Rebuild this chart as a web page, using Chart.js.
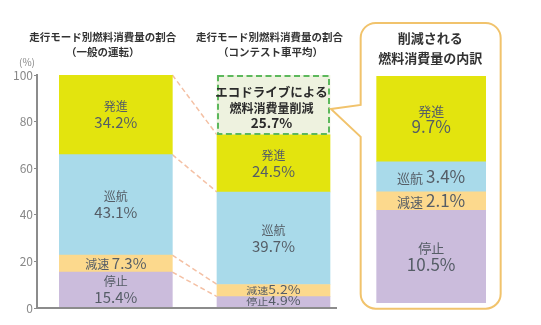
<!DOCTYPE html>
<html lang="ja">
<head>
<meta charset="utf-8">
<script src="https://cdn.jsdelivr.net/npm/chart.js@4.4.1/dist/chart.umd.min.js"></script>
<style>
    html, body { margin: 0; padding: 0; background: #fff; }
    canvas { display: block; }
</style>
</head>
<body>
<canvas id="fuelChart" width="541" height="325"></canvas>
<script>
// 走行モード別燃料消費量の割合
var groups = ['一般の運転', 'コンテスト車平均', '削減内訳'];
var modes = ['停止', '減速', '巡航', '発進'];
var generalShare = [15.4, 7.3, 43.1, 34.2];
var contestShare = [4.9, 5.2, 39.7, 24.5];
var reductionShare = [10.5, 2.1, 3.4, 9.7];
var reductionTotal = 25.7;
var yTicks = [0, 20, 40, 60, 80, 100];

var modeColors = ['#cbbcdc', '#fcd98d', '#a9daea', '#e3e40e'];
var FONT = '"Noto Sans CJK JP", "Noto Sans", sans-serif';
var TEXT = '#555d66';

function font(size, weight) {
    return (weight || 'normal') + ' ' + size + 'px ' + FONT;
}

// draws a row made of differently sized pieces, centred on cx
function drawPieces(ctx, pieces, cx, cy) {
    var total = 0;
    var big = 0;
    pieces.forEach(function (p) {
        ctx.font = font(p.size, p.weight);
        p.w = ctx.measureText(p.text).width;
        total += p.w;
        big = Math.max(big, p.size);
    });
    var x = cx - total / 2;
    ctx.textAlign = 'left';
    ctx.textBaseline = 'alphabetic';
    pieces.forEach(function (p) {
        ctx.font = font(p.size, p.weight);
        ctx.fillText(p.text, x, cy + big * 0.37);
        x += p.w;
    });
}

function centerText(ctx, text, x, y, f, color) {
    ctx.font = f;
    ctx.fillStyle = color;
    ctx.textAlign = 'center';
    ctx.textBaseline = 'middle';
    ctx.fillText(text, x, y);
}

var datasets = [];
modes.forEach(function (m, i) {
    datasets.push({
        label: m,
        data: [generalShare[i], contestShare[i], null],
        backgroundColor: modeColors[i],
        yAxisID: 'y',
        barThickness: 113
    });
});
datasets.push({
    label: 'エコドライブによる燃料消費量削減',
    data: [null, reductionTotal, null],
    backgroundColor: '#eef2df',
    yAxisID: 'y',
    barThickness: 113
});
var REDUCTION = datasets.length - 1;
modes.forEach(function (m, i) {
    datasets.push({
        label: m,
        data: [null, null, reductionShare[i]],
        backgroundColor: modeColors[i],
        yAxisID: 'y2',
        barThickness: 109
    });
});

var decorations = {
    id: 'decorations',
    beforeDatasetsDraw: function (chart) {
        var ctx = chart.ctx;
        // dashed guide lines between the first two columns
        ctx.save();
        ctx.strokeStyle = '#f4c0a4';
        ctx.lineWidth = 1.5;
        ctx.setLineDash([5, 3]);
        for (var d = 0; d < modes.length; d++) {
            var meta = chart.getDatasetMeta(d);
            var a = meta.data[0], b = meta.data[1];
            ctx.beginPath();
            ctx.moveTo(a.x + a.width / 2, a.y);
            ctx.lineTo(b.x - b.width / 2, b.y);
            ctx.stroke();
        }
        ctx.restore();
    },
    afterDatasetsDraw: function (chart) {
        var ctx = chart.ctx;
        var y = chart.scales.y;
        var area = chart.chartArea;

        // baseline under the first two columns
        var bar2 = chart.getDatasetMeta(0).data[1];
        ctx.save();
        ctx.strokeStyle = '#8c8c8c';
        ctx.lineWidth = 2;
        ctx.beginPath();
        ctx.moveTo(area.left - 1, y.getPixelForValue(0));
        ctx.lineTo(bar2.x + bar2.width / 2 + 7, y.getPixelForValue(0));
        ctx.stroke();

        // reduction block: dashed green outline
        var red = chart.getDatasetMeta(REDUCTION).data[1];
        var rl = red.x - red.width / 2, rr = red.x + red.width / 2;
        ctx.strokeStyle = '#5cb85c';
        ctx.lineWidth = 2;
        ctx.setLineDash([6, 3.5]);
        ctx.strokeRect(rl + 1, red.y + 1, red.width - 2, red.base - red.y - 2);
        ctx.setLineDash([]);
        var rc = red.x - 2;
        ctx.fillStyle = '#2b2b2b';
        centerText(ctx, 'エコドライブによる', rc, red.y + 17, font(12.5, 'bold'), '#2b2b2b');
        centerText(ctx, '燃料消費量削減', rc, red.y + 33, font(12, 'bold'), '#2b2b2b');
        centerText(ctx, reductionTotal.toFixed(1) + '%', rc, red.y + 48, font(13.5, 'bold'), '#2b2b2b');

        // callout frame around the breakdown column
        var first3 = chart.getDatasetMeta(REDUCTION + 1).data[2];
        var last3 = chart.getDatasetMeta(REDUCTION + modes.length).data[2];
        var L = first3.x - first3.width / 2 - 16;
        var R = first3.x + first3.width / 2 + 15;
        var T = 23;
        var B = first3.base + 6;
        var r = 15;
        var nTop = red.y + 30, nBot = red.base + 2;
        var tipX = rr + 1, tipY = red.y + 34;
        ctx.strokeStyle = '#f1c36c';
        ctx.lineWidth = 2;
        ctx.beginPath();
        ctx.moveTo(L, nTop);
        ctx.lineTo(L, T + r);
        ctx.arcTo(L, T, L + r, T, r);
        ctx.lineTo(R - r, T);
        ctx.arcTo(R, T, R, T + r, r);
        ctx.lineTo(R, B - r);
        ctx.arcTo(R, B, R - r, B, r);
        ctx.lineTo(L + r, B);
        ctx.arcTo(L, B, L, B - r, r);
        ctx.lineTo(L, nBot);
        ctx.lineTo(tipX, tipY);
        ctx.closePath();
        ctx.stroke();

        // segment labels
        ctx.fillStyle = TEXT;
        chart.data.datasets.forEach(function (ds, d) {
            if (d === REDUCTION) return;
            var k = d % (modes.length + 1);
            chart.getDatasetMeta(d).data.forEach(function (el, i) {
                var v = ds.data[i];
                if (v === null) return;
                var h = el.base - el.y;
                var big = i === 2;
                var ks = big ? 13 : 12, ns = big ? 17 : 15;
                var name = modes[k], val = v.toFixed(1) + '%';
                var cy = (el.y + el.base) / 2;
                if (h > 32) {
                    drawPieces(ctx, [{ text: name, size: ks }], el.x, cy - 8);
                    drawPieces(ctx, [{ text: val, size: ns }], el.x, cy + 8);
                } else if (h >= 15) {
                    drawPieces(ctx, [{ text: name + ' ', size: ks }, { text: val, size: ns }], el.x, cy);
                } else {
                    ctx.save();
                    ctx.translate(el.x, cy - 1);
                    ctx.scale(1, 0.85);
                    drawPieces(ctx, [{ text: name, size: 11 }, { text: val, size: 14 }], 0, 0);
                    ctx.restore();
                }
            });
        });

        // column titles
        var c1 = chart.getDatasetMeta(0).data[0];
        var tf = font(10.5, 'bold');
        centerText(ctx, '走行モード別燃料消費量の割合', c1.x - 13, 37, tf, '#333');
        centerText(ctx, '（一般の運転）', c1.x - 13, 52, tf, '#333');
        centerText(ctx, '走行モード別燃料消費量の割合', bar2.x - 4, 37, tf, '#333');
        centerText(ctx, '（コンテスト車平均）', bar2.x - 3, 52, tf, '#333');
        centerText(ctx, '削減される', last3.x - 1, 38, font(13, 'bold'), '#333');
        centerText(ctx, '燃料消費量の内訳', last3.x - 1, 58, font(13, 'bold'), '#333');

        centerText(ctx, '(%)', area.left - 10, 62, font(10), '#888');
        ctx.restore();
    }
};

new Chart(document.getElementById('fuelChart'), {
    type: 'bar',
    data: { labels: groups, datasets: datasets },
    options: {
        responsive: false,
        animation: false,
        layout: { padding: { top: 75, right: 31, bottom: 17, left: 0 } },
        plugins: {
            legend: { display: false },
            tooltip: { enabled: false }
        },
        datasets: { bar: { skipNull: true, borderWidth: 0 } },
        scales: {
            x: {
                type: 'category',
                stacked: true,
                display: false
            },
            y: {
                stacked: true,
                min: 0,
                max: 100,
                afterBuildTicks: function (s) {
                    s.ticks = yTicks.map(function (v) { return { value: v }; });
                },
                afterFit: function (s) { s.width = 37; },
                ticks: {
                    color: '#888',
                    padding: 1,
                    font: { size: 12, family: FONT }
                },
                grid: { drawOnChartArea: false, drawTicks: true, tickLength: 3, color: '#8c8c8c' },
                border: { display: true, color: '#8c8c8c', width: 2 }
            },
            // breakdown column has its own scale, sitting slightly above the baseline
            y2: {
                stacked: true,
                display: false,
                min: -0.6,
                max: reductionTotal + 0.15
            }
        }
    },
    plugins: [decorations]
});
</script>
</body>
</html>
